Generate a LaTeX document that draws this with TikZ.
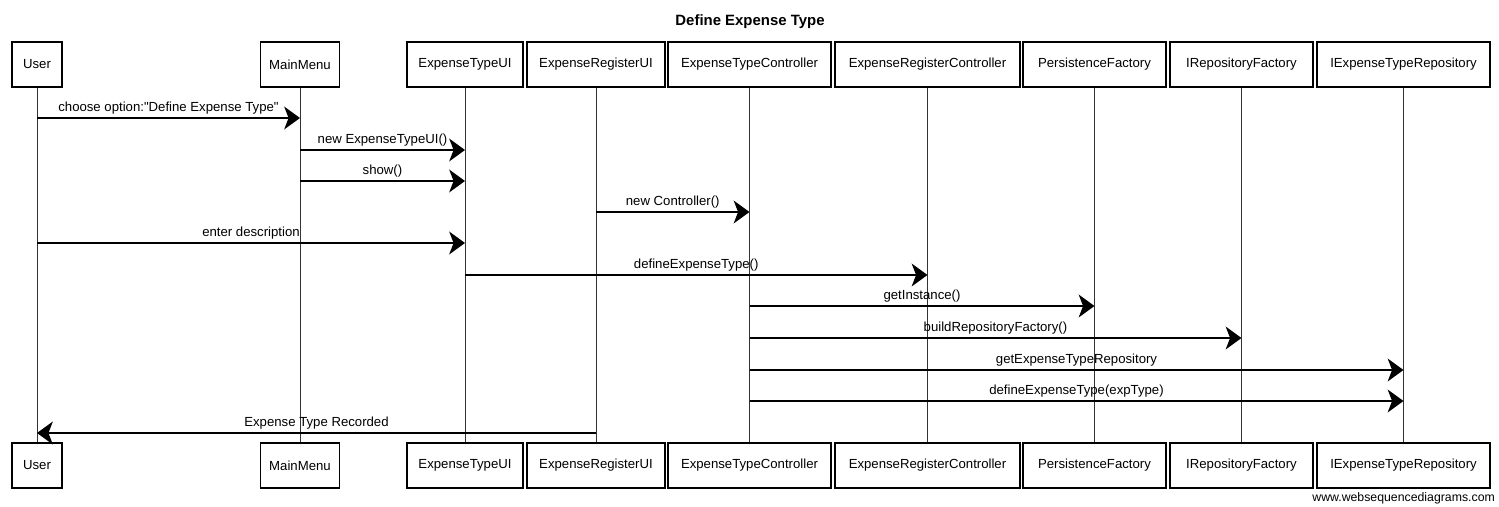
\documentclass[tikz,border=0pt]{standalone}
\usepackage{fontspec}
\setmainfont{Liberation Sans}
\usetikzlibrary{arrows.meta}

\begin{document}
\begin{tikzpicture}[
  x=0.02cm,y=-0.02cm,
  actor/.style={rectangle,draw=black,line width=0.6pt,fill=white,
                minimum height=0.9cm,inner sep=2pt,
                font=\fontsize{7.5}{9}\selectfont},
  life/.style ={draw=black!80,line width=0.5pt},
  msg/.style  ={-{Stealth[length=9pt,width=13pt,inset=2.5pt]},line width=0.9pt},
  lbl/.style  ={above,inner sep=1.5pt,font=\fontsize{7.5}{9}\selectfont}
]
\useasboundingbox (0,0) rectangle (1499,507);

\node[font=\bfseries\fontsize{8.5}{10}\selectfont] (title) at (750,22) {Define Expense Type};

% participants, top row
\node[actor,minimum width=1cm]    (user-top) at (37,64.5)     {User};
\node[actor,minimum width=1.58cm] (main-top) at (300,64.5)    {MainMenu};
\node[actor,minimum width=2.32cm] (etui-top) at (465,64.5)    {ExpenseTypeUI};
\node[actor,minimum width=2.76cm] (erui-top) at (596,64.5)    {ExpenseRegisterUI};
\node[actor,minimum width=3.26cm] (etc-top)  at (749.5,64.5)  {ExpenseTypeController};
\node[actor,minimum width=3.7cm]  (erc-top)  at (927.5,64.5)  {ExpenseRegisterController};
\node[actor,minimum width=2.86cm] (pf-top)   at (1094.5,64.5) {PersistenceFactory};
\node[actor,minimum width=2.86cm] (irf-top)  at (1241.5,64.5) {IRepositoryFactory};
\node[actor,minimum width=3.46cm] (ietr-top) at (1403.5,64.5) {IExpenseTypeRepository};

% participants, bottom row
\node[actor,minimum width=1cm]    (user-bot) at (37,465.5)     {User};
\node[actor,minimum width=1.58cm] (main-bot) at (300,465.5)    {MainMenu};
\node[actor,minimum width=2.32cm] (etui-bot) at (465,465.5)    {ExpenseTypeUI};
\node[actor,minimum width=2.76cm] (erui-bot) at (596,465.5)    {ExpenseRegisterUI};
\node[actor,minimum width=3.26cm] (etc-bot)  at (749.5,465.5)  {ExpenseTypeController};
\node[actor,minimum width=3.7cm]  (erc-bot)  at (927.5,465.5)  {ExpenseRegisterController};
\node[actor,minimum width=2.86cm] (pf-bot)   at (1094.5,465.5) {PersistenceFactory};
\node[actor,minimum width=2.86cm] (irf-bot)  at (1241.5,465.5) {IRepositoryFactory};
\node[actor,minimum width=3.46cm] (ietr-bot) at (1403.5,465.5) {IExpenseTypeRepository};

% lifelines
\foreach \p in {user,main,etui,erui,etc,erc,pf,irf,ietr}
  \draw[life] (\p-top) -- (\p-bot);

% message rows
\coordinate (m1)  at (0,118);
\coordinate (m2)  at (0,150);
\coordinate (m3)  at (0,181);
\coordinate (m4)  at (0,212);
\coordinate (m5)  at (0,243);
\coordinate (m6)  at (0,275);
\coordinate (m7)  at (0,306);
\coordinate (m8)  at (0,338);
\coordinate (m9)  at (0,370);
\coordinate (m10) at (0,401);
\coordinate (m11) at (0,433);

\draw[msg] (user-top |- m1)  -- node[lbl]{choose option:\textquotedbl Define Expense Type\textquotedbl} (main-top |- m1);
\draw[msg] (main-top |- m2)  -- node[lbl]{new ExpenseTypeUI()}        (etui-top |- m2);
\draw[msg] (main-top |- m3)  -- node[lbl]{show()}                     (etui-top |- m3);
\draw[msg] (erui-top |- m4)  -- node[lbl]{new Controller()}           (etc-top |- m4);
\draw[msg] (user-top |- m5)  -- node[lbl]{enter description}          (etui-top |- m5);
\draw[msg] (etui-top |- m6)  -- node[lbl]{defineExpenseType()}        (erc-top |- m6);
\draw[msg] (etc-top |- m7)   -- node[lbl]{getInstance()}              (pf-top |- m7);
\draw[msg] (etc-top |- m8)   -- node[lbl]{buildRepositoryFactory()}   (irf-top |- m8);
\draw[msg] (etc-top |- m9)   -- node[lbl]{getExpenseTypeRepository}   (ietr-top |- m9);
\draw[msg] (etc-top |- m10)  -- node[lbl]{defineExpenseType(expType)} (ietr-top |- m10);
\draw[msg] (erui-top |- m11) -- node[lbl]{Expense Type Recorded}      (user-top |- m11);

\node[anchor=east,inner sep=1pt,font=\fontsize{7}{8}\selectfont] (wsd) at (1497,498) {www.websequencediagrams.com};

\end{tikzpicture}
\end{document}
